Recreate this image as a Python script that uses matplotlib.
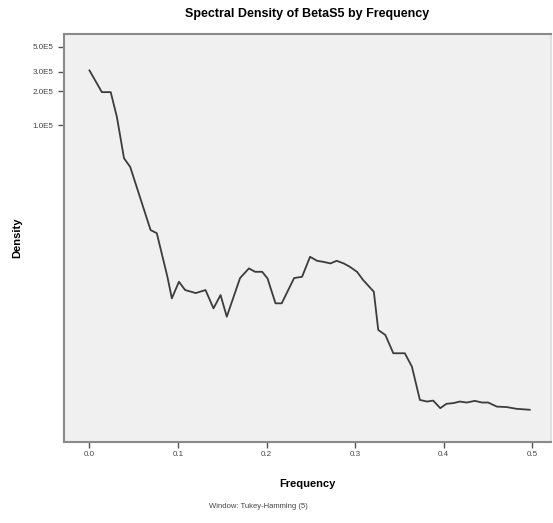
import matplotlib
matplotlib.use("Agg")
import matplotlib.pyplot as plt
from matplotlib.ticker import FixedLocator, NullLocator

plt.rcParams['font.family'] = ['Liberation Sans', 'DejaVu Sans']

frequency = [0.000, 0.014, 0.024, 0.031, 0.039, 0.046, 0.069, 0.076, 0.088, 0.093,
             0.101, 0.108, 0.120, 0.131, 0.140, 0.148, 0.155, 0.170, 0.180, 0.187,
             0.195, 0.201, 0.210, 0.217, 0.231, 0.240, 0.249, 0.257, 0.264, 0.272,
             0.279, 0.287, 0.294, 0.302, 0.309, 0.321, 0.326, 0.334, 0.343, 0.356,
             0.364, 0.373, 0.381, 0.388, 0.396, 0.403, 0.411, 0.418, 0.426, 0.435,
             0.443, 0.450, 0.460, 0.471, 0.482, 0.497]
density = [307000, 197000, 197000, 118400, 51100, 42800, 11800, 11070, 4545, 2925,
           4104, 3467, 3260, 3467, 2387, 3130, 2012, 4426, 5394, 5031,
           5031, 4396, 2643, 2643, 4426, 4545, 6833, 6296, 6166, 5970,
           6296, 5970, 5570, 5031, 4248, 3349, 1534, 1386, 954, 954,
           726, 368, 356, 363, 311, 340, 345, 356, 349, 361,
           349, 349, 321, 318, 307, 301]

x_ticks = [0.0, 0.1, 0.2, 0.3, 0.4, 0.5]
x_tick_labels = ['0.0', '0.1', '0.2', '0.3', '0.4', '0.5']
y_ticks = [1.0e5, 2.0e5, 3.0e5, 5.0e5]
y_tick_labels = ['1.0E5', '2.0E5', '3.0E5', '5.0E5']

fig = plt.figure(figsize=(5.53, 5.23), dpi=100)
ax = fig.add_axes([63.5/553, 1 - 441.5/523, (551 - 63.5)/553, (441.5 - 33.5)/523])
ax.set_facecolor('#f0f0f0')

ax.plot(frequency, density, color='#3c3c3c', linewidth=1.3)

ax.set_yscale('log')
ax.set_xlim(-0.0293, 0.521)
ax.set_ylim(157.5, 6.52e5)

ax.xaxis.set_major_locator(FixedLocator(x_ticks))
ax.set_xticklabels(x_tick_labels)
ax.yaxis.set_major_locator(FixedLocator(y_ticks))
ax.set_yticklabels(y_tick_labels)
ax.yaxis.set_minor_locator(NullLocator())
ax.xaxis.set_minor_locator(NullLocator())

ax.tick_params(axis='both', which='major', length=4, width=1, color='#555555',
               labelsize=5.8, labelcolor='#444444', pad=3)

for side in ['left', 'bottom', 'top', 'right']:
    ax.spines[side].set_color('#8a8a8a')
    ax.spines[side].set_linewidth(1.5)
ax.spines['right'].set_color('#e0e0e0')

ax.set_title('Spectral Density of BetaS5 by Frequency', fontsize=9, fontweight='bold', pad=12)
ax.set_xlabel('Frequency', fontsize=8, fontweight='bold', labelpad=15)
ax.set_ylabel('Density', fontsize=8, fontweight='bold')
ax.yaxis.set_label_coords((22 - 63.5) / 487.5, 0.5)

fig.text(258/553, 1 - 506/523, 'Window: Tukey-Hamming (5)', fontsize=5.5, color='#444444',
         ha='center', va='center')

fig.savefig('out.png', dpi=100, facecolor='white')
